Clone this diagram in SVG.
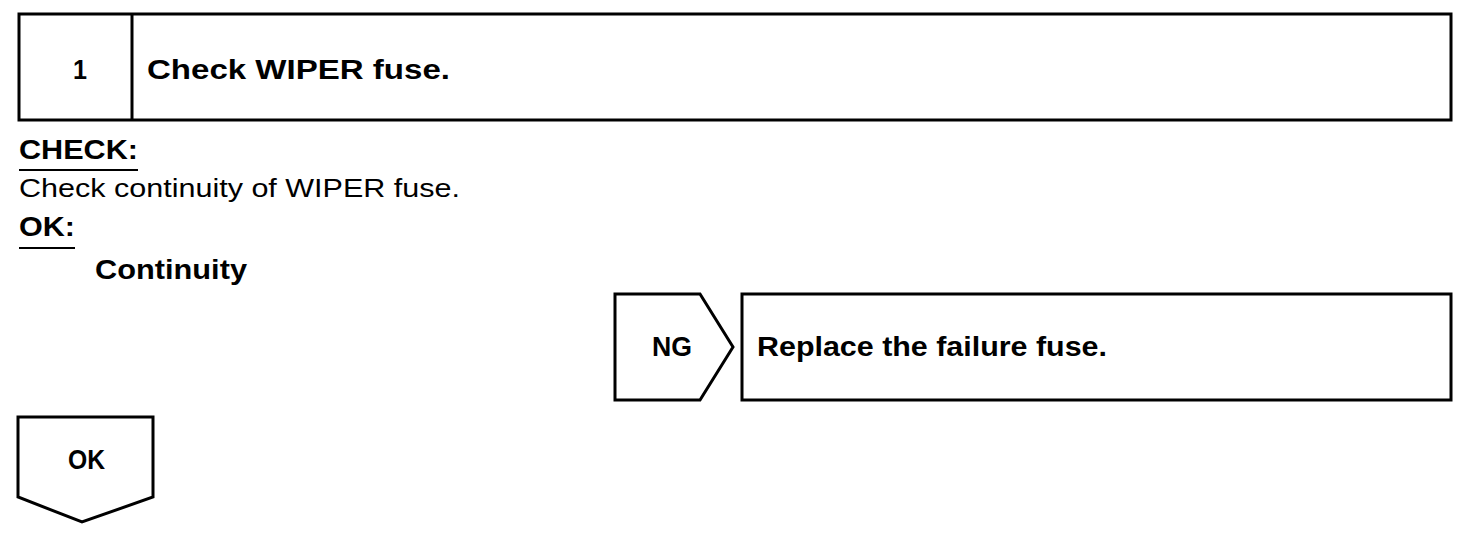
<svg xmlns="http://www.w3.org/2000/svg" width="1472" height="540" viewBox="0 0 1472 540">
<style>
.s{fill:#fff;stroke:#000;stroke-width:3}
.b{font-family:"Liberation Sans",Arial,sans-serif;font-weight:bold;fill:#000;font-size:27px}
.r{font-family:"Liberation Sans",Arial,sans-serif;fill:#000;font-size:25px}
.u{stroke:#000;stroke-width:2}
</style>
<rect width="1472" height="540" fill="#fff"/>
<g id="step1">
<rect class="s" x="19" y="14" width="1432" height="106"/>
<line x1="132" y1="14" x2="132" y2="120" stroke="#000" stroke-width="3"/>
<text class="b" x="73" y="79" textLength="14" lengthAdjust="spacingAndGlyphs">1</text>
<text class="b" x="147" y="79" textLength="303" lengthAdjust="spacingAndGlyphs">Check WIPER fuse.</text>
</g>
<g id="check-text">
<text class="b" x="19" y="159" textLength="119" lengthAdjust="spacingAndGlyphs">CHECK:</text>
<line class="u" x1="19" y1="170" x2="138" y2="170"/>
<text class="r" x="19" y="197" textLength="441" lengthAdjust="spacingAndGlyphs">Check continuity of WIPER fuse.</text>
<text class="b" x="19" y="236" textLength="56" lengthAdjust="spacingAndGlyphs">OK:</text>
<line class="u" x1="19" y1="248" x2="75" y2="248"/>
<text class="b" x="95" y="279" textLength="152" lengthAdjust="spacingAndGlyphs">Continuity</text>
</g>
<g id="ng">
<polygon class="s" points="615,294 700,294 733,347 700,400 615,400"/>
<text class="b" x="652" y="356" textLength="40" lengthAdjust="spacingAndGlyphs">NG</text>
</g>
<g id="replace">
<rect class="s" x="742" y="294" width="709" height="106"/>
<text class="b" x="757" y="356" textLength="350" lengthAdjust="spacingAndGlyphs">Replace the failure fuse.</text>
</g>
<g id="ok">
<polygon class="s" points="18,417 153,417 153,497 82,522 18,497"/>
<text class="b" x="68" y="469" textLength="37" lengthAdjust="spacingAndGlyphs">OK</text>
</g>
<g id="connectors"></g>
</svg>
